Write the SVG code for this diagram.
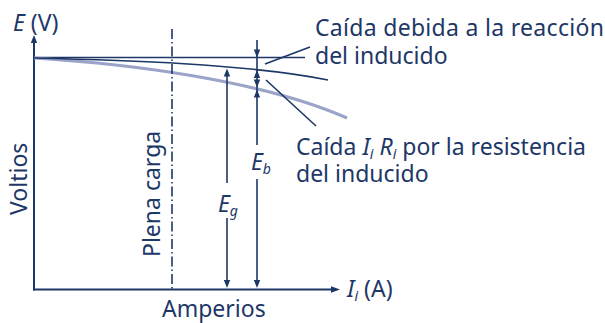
<svg xmlns="http://www.w3.org/2000/svg" width="605" height="323" viewBox="0 0 605 323">
<style>
.ln{stroke:#1d3767;fill:none;stroke-width:1.6}
.ax{stroke:#1d3767;fill:none;stroke-width:2}
.lt{stroke:#9ba3c9;fill:none;stroke-width:3.2}
.ah{fill:#1d3767}
text{font-family:"Noto Sans","Liberation Sans",sans-serif;font-size:23px;fill:#1d3767}
.it{font-style:italic}
.sb{font-size:14px;font-style:italic}
</style>
<defs>
<path id="ahD" d="M0,0 L-3.2,-8 L3.2,-8 Z"/>
<path id="ahU" d="M0,0 L-3.2,8 L3.2,8 Z"/>
<path id="ahR" d="M0,0 L-9,-3.3 L-9,3.3 Z"/>
</defs>
<g id="axes">
<line class="ax" x1="34" y1="290.5" x2="34" y2="42"/>
<use href="#ahU" class="ah" x="34" y="35"/>
<line class="ax" x1="33" y1="289.5" x2="333" y2="289.5"/>
<use href="#ahR" class="ah" x="340" y="289.5"/>
</g>
<g id="curves">
<line class="ln" x1="34" y1="57.5" x2="305" y2="57.5"/>
<path class="lt" d="M34,58 C130,64 260,80 347,118"/>
<path class="ln" d="M34,58 C120,60 250,64 328,80"/>
<line class="ln" x1="172" y1="29" x2="172" y2="289" stroke-dasharray="10 3 1.5 3"/>
</g>
<g id="connectors">
<line class="ln" x1="227" y1="72" x2="227" y2="183"/>
<line class="ln" x1="227" y1="218" x2="227" y2="282"/>
<use href="#ahU" class="ah" x="227" y="68.5"/>
<use href="#ahD" class="ah" x="227" y="288"/>
<line class="ln" x1="257" y1="40" x2="257" y2="145"/>
<line class="ln" x1="257" y1="179" x2="257" y2="282"/>
<use href="#ahD" class="ah" x="257" y="57.5"/>
<use href="#ahU" class="ah" x="257" y="70"/>
<use href="#ahD" class="ah" x="257" y="87.5"/>
<use href="#ahU" class="ah" x="257" y="89.5"/>
<use href="#ahD" class="ah" x="257" y="288"/>
<line class="ln" x1="265" y1="64" x2="310" y2="47" stroke-width="1.2"/>
<line class="ln" x1="266" y1="80" x2="316" y2="126" stroke-width="1.2"/>
</g>
<g id="labels">
<text x="13" y="31"><tspan class="it">E</tspan> (V)</text>
<text x="315" y="36" letter-spacing="0.3">Caída debida a la reacción</text>
<text x="315" y="64">del inducido</text>
<text x="296" y="155">Caída <tspan class="it">I</tspan><tspan class="sb" dy="4">i</tspan><tspan dy="-4"> </tspan><tspan class="it">R</tspan><tspan class="sb" dy="4">i</tspan><tspan dy="-4"> por la resistencia</tspan></text>
<text x="296" y="182">del inducido</text>
<text transform="translate(27,215) rotate(-90)">Voltios</text>
<text transform="translate(160,257) rotate(-90)">Plena carga</text>
<text x="162" y="317">Amperios</text>
<text x="347" y="297"><tspan class="it">I</tspan><tspan class="sb" dy="4">i</tspan><tspan dy="-4"> (A)</tspan></text>
<text x="218" y="212"><tspan class="it">E</tspan><tspan class="sb" dy="4">g</tspan></text>
<text x="251" y="170"><tspan class="it">E</tspan><tspan class="sb" dy="4">b</tspan></text>
</g>
</svg>
